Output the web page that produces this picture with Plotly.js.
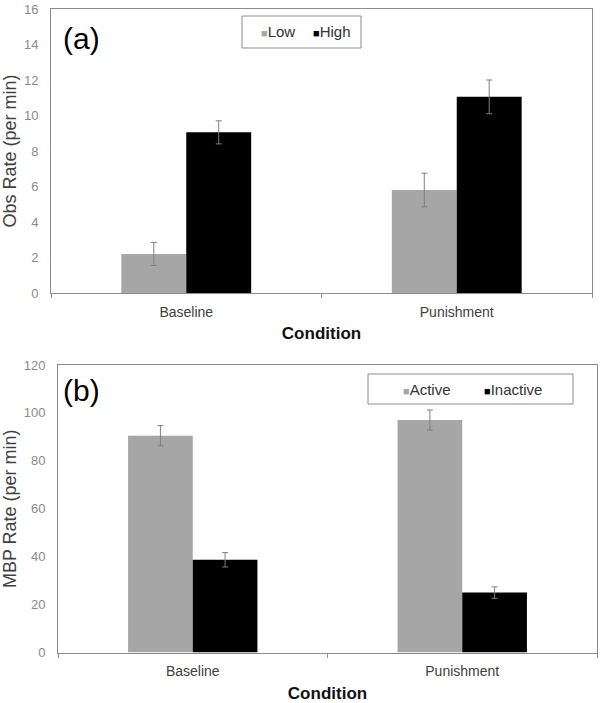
<!DOCTYPE html>
<html>
<head>
<meta charset="utf-8">
<script src="https://cdn.plot.ly/plotly-3.0.1.min.js"></script>
<style>html,body{margin:0;padding:0;background:#fff;}#chart{width:603px;height:703px;}</style>
</head>
<body>
<div id="chart"></div>
<script>
const conditions = ["Baseline", "Punishment"];
const obsLow = [2.2, 5.8];
const obsLowErr = [0.65, 0.95];
const obsHigh = [9.05, 11.05];
const obsHighErr = [0.65, 0.95];
const mbpActive = [90.5, 97];
const mbpActiveErr = [4.2, 4.2];
const mbpInactive = [38.7, 25];
const mbpInactiveErr = [3.0, 2.4];
const yTicksA = [0, 2, 4, 6, 8, 10, 12, 14, 16];
const yTicksB = [0, 20, 40, 60, 80, 100, 120];
const seriesA = ["Low", "High"];
const seriesB = ["Active", "Inactive"];

const gray = "#a6a6a6";
const black = "#000000";
const errStyle = {type: "data", visible: true, color: "#7f7f7f", thickness: 1, width: 3};
const W = 603, H = 703;
const FAM = "Liberation Sans, Arial, sans-serif";

const traces = [
  {type: "bar", name: seriesA[0], x: conditions, y: obsLow, marker: {color: gray},
   error_y: Object.assign({array: obsLowErr}, errStyle), xaxis: "x", yaxis: "y", showlegend: false},
  {type: "bar", name: seriesA[1], x: conditions, y: obsHigh, marker: {color: black},
   error_y: Object.assign({array: obsHighErr}, errStyle), xaxis: "x", yaxis: "y", showlegend: false},
  {type: "bar", name: seriesB[0], x: conditions, y: mbpActive, marker: {color: gray},
   error_y: Object.assign({array: mbpActiveErr}, errStyle), xaxis: "x2", yaxis: "y2", showlegend: false},
  {type: "bar", name: seriesB[1], x: conditions, y: mbpInactive, marker: {color: black},
   error_y: Object.assign({array: mbpInactiveErr}, errStyle), xaxis: "x2", yaxis: "y2", showlegend: false}
];

function xax(domain, anchor) {
  return {
    domain: domain, anchor: anchor, type: "category", automargin: false,
    showline: true, linecolor: "#8c8c8c", linewidth: 1, mirror: true,
    ticks: "outside", tickson: "boundaries", ticklen: 4, tickcolor: "#8c8c8c",
    ticklabelstandoff: 6,
    tickfont: {family: FAM, size: 14, color: "#404040"},
    title: {text: "<b>Condition</b>", font: {family: FAM, size: 17, color: "#111"}, standoff: 8},
    showgrid: false, zeroline: false, fixedrange: true
  };
}
function yax(domain, anchor, range, ticks, title) {
  return {
    domain: domain, anchor: anchor, range: range, tickvals: ticks, ticktext: ticks.map(String),
    automargin: false,
    showline: true, linecolor: "#8c8c8c", linewidth: 1, mirror: true,
    ticks: "", ticklabelstandoff: 9,
    tickfont: {family: FAM, size: 13, color: "#8a8a8a"},
    title: {text: title, font: {family: FAM, size: 18, color: "#404040"}, standoff: 8},
    showgrid: false, zeroline: false, fixedrange: true
  };
}

function legendItem(label, color, px, py) {
  return {
    text: '<span style="font-size:11px;color:' + color + '">■</span>' + label,
    xref: "paper", yref: "paper", x: px / W, y: 1 - py / H, xanchor: "left", yanchor: "middle",
    showarrow: false, font: {family: FAM, size: 15, color: "#333"}
  };
}

const layout = {
  width: W, height: H,
  margin: {l: 0, r: 0, t: 0, b: 0, autoexpand: false},
  paper_bgcolor: "#fff", plot_bgcolor: "#fff",
  font: {family: FAM},
  barmode: "group", bargap: 0.52, bargroupgap: 0,
  showlegend: false,
  xaxis: xax([51 / W, 592 / W], "y"),
  yaxis: yax([1 - 293 / H, 1 - 9 / H], "x", [0, 16], yTicksA, "Obs Rate (per min)"),
  xaxis2: xax([58 / W, 597 / W], "y2"),
  yaxis2: yax([1 - 652.5 / H, 1 - 365 / H], "x2", [0, 120], yTicksB, "MBP Rate (per min)"),
  shapes: [
    {type: "rect", xref: "paper", yref: "paper", x0: 242 / W, x1: 361 / W, y0: 1 - 48 / H, y1: 1 - 16 / H,
     line: {color: "#8c8c8c", width: 1}, fillcolor: "#fff"},
    {type: "rect", xref: "paper", yref: "paper", x0: 368 / W, x1: 573 / W, y0: 1 - 404 / H, y1: 1 - 374 / H,
     line: {color: "#8c8c8c", width: 1}, fillcolor: "#fff"}
  ],
  annotations: [
    {text: "(a)", xref: "paper", yref: "paper", x: 61 / W, y: 1 - 39 / H, xanchor: "left", yanchor: "middle",
     showarrow: false, font: {family: FAM, size: 30, color: "#000"}},
    {text: "(b)", xref: "paper", yref: "paper", x: 61 / W, y: 1 - 390 / H, xanchor: "left", yanchor: "middle",
     showarrow: false, font: {family: FAM, size: 30, color: "#000"}},
    legendItem(seriesA[0], gray, 259, 32),
    legendItem(seriesA[1], black, 311, 32),
    legendItem(seriesB[0], gray, 401, 389),
    legendItem(seriesB[1], black, 482, 389)
  ]
};

Plotly.newPlot("chart", traces, layout, {displayModeBar: false, staticPlot: true});
</script>
</body>
</html>
